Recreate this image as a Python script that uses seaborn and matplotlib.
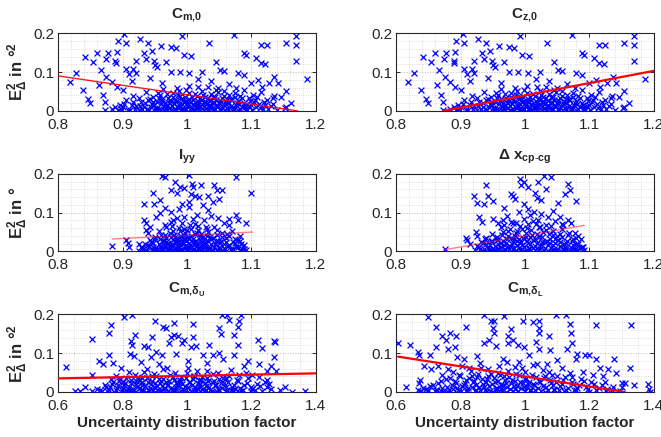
import matplotlib
matplotlib.use("Agg")
import matplotlib.pyplot as plt
import numpy as np
import pandas as pd
import seaborn as sns
from matplotlib.ticker import MultipleLocator

##### data #####
# top row: both panels show the same scatter cloud
top_pts = [
    # sparse upper part
    (0.903, 0.197), (0.992, 0.193), (1.073, 0.195), (1.169, 0.192), (0.893, 0.180), (0.905, 0.175),
    (0.927, 0.186), (0.939, 0.176), (0.959, 0.167), (0.975, 0.165), (0.983, 0.163), (1.034, 0.174),
    (1.115, 0.169), (1.125, 0.169), (1.154, 0.174), (1.169, 0.169), (0.860, 0.150), (0.878, 0.148),
    (0.891, 0.152), (0.933, 0.148), (0.946, 0.155), (0.996, 0.144), (1.006, 0.141), (1.089, 0.150),
    (1.092, 0.144), (0.842, 0.139), (0.854, 0.127), (0.874, 0.133), (0.889, 0.128), (0.890, 0.122),
    (0.921, 0.129), (0.936, 0.133), (0.949, 0.129), (0.950, 0.118), (0.953, 0.114), (0.967, 0.127),
    (1.045, 0.125), (1.058, 0.103), (1.107, 0.135), (1.115, 0.122), (1.122, 0.120), (1.169, 0.129),
    (0.906, 0.108), (0.917, 0.109), (0.910, 0.095), (0.921, 0.098), (0.975, 0.101), (0.989, 0.101),
    (1.004, 0.098), (1.024, 0.101), (1.051, 0.105), (1.079, 0.097), (1.089, 0.092), (0.827, 0.097),
    (0.818, 0.075), (0.867, 0.105), (0.875, 0.088), (0.883, 0.075), (0.863, 0.067), (0.838, 0.054),
    (0.846, 0.030), (0.850, 0.021), (0.869, 0.041), (0.872, 0.024), (0.891, 0.061), (0.900, 0.054),
    (1.187, 0.081), (1.136, 0.088), (1.141, 0.071), (1.128, 0.071), (1.154, 0.052), (1.162, 0.020),
    (1.154, 0.011), (1.146, 0.037), (1.133, 0.032), (1.117, 0.062), (1.110, 0.080), (1.099, 0.071),
    (0.915, 0.078), (0.942, 0.085), (0.962, 0.072), (1.017, 0.083), (1.038, 0.077), (1.066, 0.068),
    # dense lower band
    (0.872, 0.001), (0.884, 0.004), (0.893, 0.002), (0.901, 0.009), (0.908, 0.003), (0.914, 0.015),
    (0.919, 0.006), (0.925, 0.001), (0.929, 0.022), (0.934, 0.011), (0.938, 0.004), (0.943, 0.031),
    (0.946, 0.017), (0.951, 0.008), (0.954, 0.002), (0.958, 0.041), (0.961, 0.025), (0.964, 0.012),
    (0.967, 0.005), (0.971, 0.034), (0.973, 0.019), (0.976, 0.001), (0.979, 0.047), (0.982, 0.028),
    (0.984, 0.009), (0.987, 0.015), (0.990, 0.038), (0.993, 0.004), (0.996, 0.022), (0.998, 0.055),
    (1.001, 0.011), (1.004, 0.031), (1.006, 0.002), (1.009, 0.018), (1.012, 0.043), (1.014, 0.007),
    (1.017, 0.026), (1.020, 0.013), (1.023, 0.051), (1.026, 0.003), (1.028, 0.035), (1.031, 0.019),
    (1.034, 0.009), (1.037, 0.044), (1.040, 0.024), (1.043, 0.004), (1.046, 0.014), (1.049, 0.058),
    (1.052, 0.029), (1.055, 0.008), (1.058, 0.039), (1.061, 0.018), (1.064, 0.002), (1.068, 0.027),
    (1.071, 0.011), (1.075, 0.046), (1.078, 0.021), (1.082, 0.006), (1.086, 0.033), (1.090, 0.015),
    (1.094, 0.003), (1.098, 0.025), (1.103, 0.041), (1.107, 0.009), (1.112, 0.018), (1.118, 0.004),
    (1.124, 0.029), (1.131, 0.012), (1.140, 0.002), (1.152, 0.007), (0.896, 0.016), (0.905, 0.027),
    (0.917, 0.038), (0.927, 0.013), (0.936, 0.049), (0.948, 0.023), (0.956, 0.033), (0.963, 0.057),
    (0.969, 0.015), (0.975, 0.026), (0.981, 0.006), (0.988, 0.051), (0.994, 0.029), (1.000, 0.019),
    (1.003, 0.064), (1.008, 0.037), (1.015, 0.016), (1.021, 0.032), (1.027, 0.022), (1.033, 0.061),
    (1.038, 0.012), (1.044, 0.036), (1.050, 0.019), (1.057, 0.052), (1.063, 0.031), (1.069, 0.013),
    (1.074, 0.037), (1.081, 0.017), (1.088, 0.055), (1.096, 0.012), (1.106, 0.028), (1.115, 0.048),
    (1.121, 0.014), (1.135, 0.038), (0.941, 0.002), (0.952, 0.005), (0.959, 0.001), (0.968, 0.008),
    (0.978, 0.003), (0.991, 0.002), (0.999, 0.006), (1.011, 0.001), (1.019, 0.004), (1.029, 0.007),
    (1.041, 0.001), (1.051, 0.005), (1.059, 0.002), (1.072, 0.006), (1.079, 0.001), (1.091, 0.009),
    (1.101, 0.002),
    (0.889, 0.011), (0.897, 0.006), (0.903, 0.018), (0.911, 0.001), (0.916, 0.024), (0.921, 0.012),
    (0.926, 0.032), (0.931, 0.004), (0.935, 0.019), (0.939, 0.027), (0.944, 0.009), (0.947, 0.036),
    (0.949, 0.014), (0.953, 0.024), (0.957, 0.006), (0.960, 0.018), (0.962, 0.030), (0.965, 0.002),
    (0.966, 0.021), (0.969, 0.044), (0.972, 0.008), (0.974, 0.028), (0.977, 0.013), (0.978, 0.036),
    (0.980, 0.021), (0.983, 0.003), (0.985, 0.026), (0.986, 0.042), (0.989, 0.011), (0.991, 0.031),
    (0.992, 0.017), (0.995, 0.005), (0.997, 0.037), (0.999, 0.026), (1.002, 0.014), (1.003, 0.045),
    (1.005, 0.022), (1.007, 0.008), (1.010, 0.029), (1.011, 0.016), (1.013, 0.003), (1.016, 0.038),
    (1.018, 0.021), (1.019, 0.009), (1.022, 0.028), (1.024, 0.017), (1.025, 0.042), (1.027, 0.011),
    (1.029, 0.024), (1.032, 0.002), (1.033, 0.033), (1.035, 0.015), (1.036, 0.026), (1.039, 0.007),
    (1.041, 0.037), (1.042, 0.019), (1.045, 0.029), (1.047, 0.011), (1.048, 0.048), (1.051, 0.021),
    (1.053, 0.003), (1.054, 0.034), (1.057, 0.014), (1.060, 0.026), (1.062, 0.008), (1.065, 0.041),
    (1.066, 0.019), (1.069, 0.031), (1.073, 0.004), (1.076, 0.014), (1.080, 0.025), (1.083, 0.038),
    (1.085, 0.011), (1.088, 0.021), (1.092, 0.005), (1.096, 0.032), (1.100, 0.016), (1.104, 0.024),
    (1.109, 0.036), (1.113, 0.008), (1.119, 0.022), (1.126, 0.006), (1.133, 0.017), (0.955, 0.047),
    (0.985, 0.058), (1.018, 0.062), (1.045, 0.053), (1.077, 0.058),
]

iyy_pts = [
    (0.962, 0.195), (0.966, 0.191), (1.003, 0.197), (1.076, 0.191), (0.982, 0.178), (0.990, 0.167),
    (0.995, 0.164), (1.008, 0.174), (1.010, 0.167), (1.022, 0.170), (1.013, 0.144), (1.042, 0.170),
    (1.046, 0.159), (1.054, 0.157), (1.099, 0.151), (0.947, 0.150), (0.975, 0.157), (0.985, 0.150),
    (1.006, 0.149), (1.019, 0.140), (1.032, 0.144), (1.040, 0.127), (1.050, 0.136), (0.934, 0.121),
    (0.949, 0.122), (0.958, 0.132), (0.966, 0.112), (0.975, 0.102), (0.993, 0.123), (1.004, 0.127),
    (1.004, 0.115), (1.025, 0.119), (1.032, 0.106), (0.934, 0.081), (0.936, 0.074), (0.952, 0.089),
    (0.966, 0.068), (0.978, 0.081), (0.996, 0.089), (1.027, 0.081), (1.048, 0.085), (1.066, 0.083),
    (1.076, 0.094), (1.079, 0.081), (1.092, 0.074), (1.066, 0.068), (0.884, 0.015), (0.906, 0.029),
    (0.908, 0.022), (0.910, 0.012), (0.925, 0.020), (0.929, 0.012), (0.939, 0.047), (0.942, 0.064),
    (0.937, 0.056), (1.079, 0.030), (1.082, 0.039), (1.084, 0.018), (1.089, 0.007), (1.092, 0.003),
    (0.958, 0.098), (0.988, 0.108), (1.015, 0.094), (1.037, 0.091), (0.984, 0.087), (1.058, 0.072),
    # dense lower band
    (0.925, 0.002), (0.932, 0.006), (0.938, 0.001), (0.941, 0.013), (0.945, 0.004), (0.948, 0.021),
    (0.952, 0.009), (0.955, 0.002), (0.958, 0.031), (0.960, 0.015), (0.963, 0.005), (0.966, 0.042),
    (0.968, 0.024), (0.970, 0.011), (0.973, 0.001), (0.975, 0.036), (0.977, 0.018), (0.979, 0.052),
    (0.981, 0.007), (0.983, 0.028), (0.985, 0.013), (0.987, 0.061), (0.989, 0.003), (0.991, 0.039),
    (0.993, 0.021), (0.995, 0.009), (0.997, 0.047), (0.999, 0.016), (1.001, 0.002), (1.003, 0.033),
    (1.005, 0.068), (1.007, 0.011), (1.009, 0.025), (1.011, 0.005), (1.013, 0.044), (1.015, 0.017),
    (1.017, 0.056), (1.019, 0.008), (1.021, 0.029), (1.023, 0.014), (1.025, 0.038), (1.027, 0.002),
    (1.030, 0.022), (1.032, 0.049), (1.035, 0.010), (1.038, 0.031), (1.041, 0.004), (1.044, 0.019),
    (1.047, 0.043), (1.050, 0.012), (1.053, 0.026), (1.056, 0.001), (1.060, 0.035), (1.064, 0.015),
    (1.068, 0.006), (1.072, 0.024), (1.077, 0.011), (1.082, 0.003), (1.088, 0.016), (0.935, 0.019),
    (0.943, 0.029), (0.950, 0.038), (0.957, 0.053), (0.962, 0.027), (0.967, 0.063), (0.972, 0.019),
    (0.976, 0.075), (0.980, 0.043), (0.984, 0.034), (0.988, 0.024), (0.992, 0.072), (0.996, 0.031),
    (1.000, 0.055), (1.002, 0.012), (1.006, 0.041), (1.010, 0.083), (1.014, 0.028), (1.018, 0.066),
    (1.022, 0.046), (1.026, 0.021), (1.031, 0.058), (1.036, 0.036), (1.042, 0.062), (1.048, 0.028),
    (1.054, 0.047), (1.058, 0.018), (1.065, 0.039), (1.070, 0.053), (1.075, 0.031), (0.951, 0.001),
    (0.961, 0.003), (0.971, 0.006), (0.979, 0.001), (0.992, 0.004), (1.000, 0.007), (1.012, 0.001),
    (1.020, 0.003), (1.029, 0.006), (1.039, 0.002), (1.051, 0.005), (1.061, 0.001), (1.069, 0.004),
    (0.986, 0.002), (1.016, 0.002), (1.046, 0.001),
    (0.931, 0.009), (0.936, 0.003), (0.940, 0.016), (0.944, 0.024), (0.947, 0.011), (0.951, 0.031),
    (0.953, 0.005), (0.956, 0.019), (0.959, 0.042), (0.961, 0.008), (0.964, 0.027), (0.965, 0.014),
    (0.968, 0.035), (0.969, 0.003), (0.971, 0.021), (0.974, 0.047), (0.975, 0.011), (0.978, 0.029),
    (0.979, 0.017), (0.982, 0.038), (0.984, 0.006), (0.985, 0.023), (0.988, 0.014), (0.989, 0.052),
    (0.991, 0.031), (0.993, 0.002), (0.994, 0.019), (0.996, 0.041), (0.998, 0.026), (1.000, 0.011),
    (1.002, 0.036), (1.004, 0.021), (1.006, 0.058), (1.008, 0.004), (1.009, 0.031), (1.011, 0.016),
    (1.013, 0.025), (1.016, 0.047), (1.018, 0.009), (1.020, 0.036), (1.022, 0.022), (1.024, 0.003),
    (1.026, 0.031), (1.028, 0.015), (1.031, 0.041), (1.033, 0.026), (1.035, 0.005), (1.037, 0.018),
    (1.040, 0.035), (1.042, 0.012), (1.045, 0.027), (1.048, 0.004), (1.051, 0.021), (1.054, 0.038),
    (1.057, 0.009), (1.061, 0.025), (1.063, 0.044), (1.066, 0.016), (1.071, 0.006), (1.074, 0.021),
    (1.079, 0.012), (1.083, 0.027), (1.086, 0.006), (0.977, 0.065), (0.995, 0.058), (1.012, 0.071),
    (1.029, 0.064), (1.046, 0.056),
]

dx_pts = [
    (0.993, 0.187), (0.999, 0.178), (1.029, 0.195), (1.041, 0.192), (0.994, 0.172), (1.004, 0.167),
    (1.020, 0.178), (1.033, 0.161), (1.067, 0.174), (1.070, 0.159), (0.940, 0.170), (0.921, 0.142),
    (0.943, 0.144), (0.979, 0.149), (0.981, 0.142), (0.984, 0.136), (1.015, 0.150), (1.019, 0.138),
    (1.025, 0.132), (1.051, 0.125), (1.062, 0.147), (1.080, 0.130), (0.926, 0.125), (0.937, 0.123),
    (0.950, 0.130), (0.968, 0.111), (0.999, 0.123), (1.004, 0.108), (1.014, 0.102), (1.025, 0.096),
    (0.929, 0.089), (0.933, 0.077), (0.950, 0.083), (0.958, 0.073), (0.966, 0.081), (0.981, 0.073),
    (1.036, 0.089), (1.054, 0.089), (1.059, 0.068), (1.067, 0.081), (1.072, 0.073), (0.924, 0.051),
    (0.926, 0.041), (0.908, 0.035), (0.910, 0.029), (0.875, 0.005), (0.914, 0.018), (1.077, 0.047),
    (1.082, 0.039), (1.087, 0.032), (1.080, 0.018), (1.090, 0.012), (1.077, 0.005), (1.081, 0.003),
    (1.092, 0.003), (0.991, 0.101), (1.008, 0.094), (1.043, 0.104), (0.972, 0.092), (1.047, 0.079),
    # dense lower band
    (0.922, 0.003), (0.928, 0.011), (0.934, 0.001), (0.939, 0.019), (0.944, 0.006), (0.947, 0.027),
    (0.951, 0.002), (0.954, 0.014), (0.957, 0.038), (0.960, 0.007), (0.963, 0.022), (0.966, 0.049),
    (0.969, 0.003), (0.972, 0.031), (0.974, 0.012), (0.977, 0.058), (0.980, 0.019), (0.982, 0.005),
    (0.985, 0.041), (0.987, 0.026), (0.990, 0.009), (0.992, 0.066), (0.995, 0.016), (0.997, 0.034),
    (1.000, 0.002), (1.002, 0.047), (1.005, 0.021), (1.007, 0.008), (1.010, 0.055), (1.012, 0.029),
    (1.015, 0.013), (1.017, 0.071), (1.020, 0.004), (1.022, 0.037), (1.025, 0.018), (1.028, 0.051),
    (1.031, 0.009), (1.034, 0.027), (1.037, 0.044), (1.040, 0.002), (1.043, 0.016), (1.046, 0.033),
    (1.050, 0.006), (1.054, 0.024), (1.058, 0.059), (1.062, 0.011), (1.066, 0.028), (1.070, 0.004),
    (1.075, 0.017), (1.080, 0.035), (1.086, 0.008), (0.931, 0.024), (0.940, 0.035), (0.949, 0.045),
    (0.956, 0.029), (0.962, 0.062), (0.968, 0.017), (0.973, 0.041), (0.978, 0.075), (0.983, 0.032),
    (0.988, 0.053), (0.993, 0.022), (0.998, 0.084), (1.003, 0.061), (1.008, 0.036), (1.013, 0.078),
    (1.018, 0.046), (1.023, 0.062), (1.027, 0.025), (1.033, 0.067), (1.038, 0.021), (1.044, 0.052),
    (1.049, 0.039), (1.055, 0.046), (1.060, 0.020), (1.067, 0.042), (1.073, 0.026), (0.945, 0.001),
    (0.955, 0.004), (0.965, 0.001), (0.975, 0.006), (0.985, 0.002), (0.996, 0.005), (1.005, 0.001),
    (1.016, 0.004), (1.024, 0.007), (1.035, 0.001), (1.045, 0.005), (1.056, 0.002), (1.064, 0.006),
    (1.074, 0.001), (0.936, 0.005), (1.059, 0.003),
    (0.925, 0.013), (0.930, 0.005), (0.935, 0.021), (0.938, 0.031), (0.942, 0.009), (0.946, 0.017),
    (0.949, 0.026), (0.952, 0.004), (0.955, 0.035), (0.958, 0.019), (0.961, 0.011), (0.964, 0.043),
    (0.966, 0.028), (0.969, 0.006), (0.971, 0.021), (0.973, 0.052), (0.976, 0.013), (0.978, 0.034),
    (0.981, 0.025), (0.983, 0.009), (0.986, 0.047), (0.988, 0.016), (0.990, 0.031), (0.992, 0.003),
    (0.994, 0.023), (0.996, 0.057), (0.999, 0.012), (1.001, 0.036), (1.003, 0.027), (1.006, 0.005),
    (1.008, 0.019), (1.011, 0.042), (1.013, 0.008), (1.016, 0.031), (1.018, 0.022), (1.021, 0.063),
    (1.023, 0.013), (1.026, 0.037), (1.029, 0.004), (1.031, 0.025), (1.033, 0.055), (1.036, 0.017),
    (1.039, 0.032), (1.041, 0.009), (1.044, 0.043), (1.047, 0.021), (1.049, 0.002), (1.052, 0.029),
    (1.055, 0.014), (1.058, 0.038), (1.061, 0.006), (1.064, 0.021), (1.068, 0.047), (1.071, 0.012),
    (1.074, 0.031), (1.078, 0.004), (1.083, 0.019), (1.088, 0.011), (0.968, 0.068), (0.986, 0.073),
    (1.004, 0.070), (1.020, 0.081), (1.041, 0.065), (1.057, 0.071),
]

dU_pts = [
    (0.806, 0.192), (0.830, 0.197), (1.109, 0.198), (1.126, 0.197), (1.167, 0.198), (0.902, 0.183),
    (1.131, 0.186), (1.162, 0.182), (0.765, 0.173), (0.925, 0.168), (0.935, 0.164), (0.961, 0.177),
    (1.018, 0.175), (1.100, 0.166), (1.160, 0.168), (0.757, 0.153), (0.840, 0.148), (0.893, 0.142),
    (0.950, 0.142), (0.961, 0.146), (0.971, 0.145), (0.992, 0.133), (1.020, 0.142), (1.105, 0.150),
    (1.147, 0.146), (0.705, 0.136), (0.827, 0.131), (0.830, 0.120), (0.868, 0.118), (0.878, 0.116),
    (0.945, 0.125), (0.984, 0.125), (1.012, 0.116), (1.027, 0.118), (1.069, 0.120), (1.160, 0.122),
    (1.220, 0.133), (1.233, 0.113), (1.271, 0.131), (1.273, 0.128), (0.823, 0.098), (0.837, 0.092),
    (0.759, 0.094), (0.728, 0.081), (0.739, 0.072), (0.770, 0.075), (0.888, 0.089), (0.904, 0.103),
    (0.923, 0.094), (0.966, 0.098), (1.049, 0.094), (1.080, 0.096), (1.100, 0.101), (1.111, 0.085),
    (1.147, 0.094), (1.191, 0.081), (1.223, 0.072), (1.271, 0.089), (1.261, 0.068), (1.276, 0.054),
    (1.250, 0.054), (0.623, 0.065), (0.705, 0.043), (0.682, 0.013), (0.653, 0.002), (0.668, 0.002),
    (1.305, 0.013), (1.326, 0.001), (1.367, 0.002), (1.290, 0.004), (1.250, 0.032), (1.256, 0.021),
    (0.858, 0.078), (0.912, 0.071), (1.004, 0.079), (1.063, 0.074), (1.178, 0.066), (0.795, 0.062),
    # dense lower band
    (0.705, 0.003), (0.722, 0.008), (0.735, 0.002), (0.748, 0.014), (0.757, 0.005), (0.766, 0.021),
    (0.774, 0.001), (0.782, 0.011), (0.790, 0.029), (0.797, 0.004), (0.804, 0.017), (0.811, 0.037),
    (0.818, 0.008), (0.825, 0.024), (0.831, 0.002), (0.838, 0.045), (0.844, 0.013), (0.850, 0.031),
    (0.856, 0.006), (0.862, 0.019), (0.868, 0.052), (0.873, 0.001), (0.879, 0.027), (0.885, 0.011),
    (0.890, 0.041), (0.896, 0.004), (0.902, 0.022), (0.908, 0.015), (0.913, 0.034), (0.919, 0.002),
    (0.925, 0.058), (0.931, 0.009), (0.936, 0.026), (0.942, 0.017), (0.948, 0.044), (0.953, 0.005),
    (0.959, 0.031), (0.965, 0.012), (0.970, 0.021), (0.976, 0.001), (0.982, 0.038), (0.988, 0.008),
    (0.994, 0.016), (1.000, 0.049), (1.006, 0.025), (1.012, 0.003), (1.018, 0.034), (1.024, 0.013),
    (1.030, 0.055), (1.036, 0.007), (1.042, 0.021), (1.048, 0.039), (1.054, 0.002), (1.060, 0.015),
    (1.067, 0.029), (1.073, 0.006), (1.080, 0.047), (1.087, 0.018), (1.094, 0.001), (1.101, 0.033),
    (1.108, 0.011), (1.116, 0.024), (1.124, 0.004), (1.132, 0.041), (1.140, 0.014), (1.149, 0.007),
    (1.158, 0.028), (1.168, 0.002), (1.178, 0.017), (1.190, 0.035), (1.203, 0.008), (1.217, 0.021),
    (1.232, 0.003), (1.248, 0.012), (0.763, 0.033), (0.781, 0.042), (0.802, 0.025), (0.819, 0.051),
    (0.843, 0.028), (0.861, 0.037), (0.877, 0.058), (0.899, 0.047), (0.921, 0.029), (0.938, 0.061),
    (0.962, 0.048), (0.979, 0.026), (1.003, 0.063), (1.021, 0.042), (1.039, 0.031), (1.062, 0.053),
    (1.078, 0.027), (1.097, 0.049), (1.122, 0.036), (1.138, 0.057), (1.161, 0.043), (1.183, 0.049),
    (1.202, 0.044), (1.224, 0.038), (0.801, 0.001), (0.822, 0.004), (0.839, 0.001), (0.861, 0.006),
    (0.882, 0.002), (0.901, 0.001), (0.918, 0.005), (0.941, 0.002), (0.958, 0.007), (0.981, 0.003),
    (0.999, 0.001), (1.022, 0.006), (1.041, 0.002), (1.058, 0.004), (1.082, 0.001), (1.099, 0.006),
    (1.121, 0.002), (1.143, 0.004), (1.161, 0.001), (1.198, 0.003),
    (0.731, 0.006), (0.744, 0.019), (0.753, 0.002), (0.762, 0.012), (0.771, 0.026), (0.779, 0.005),
    (0.787, 0.017), (0.793, 0.034), (0.801, 0.009), (0.807, 0.022), (0.814, 0.003), (0.821, 0.013),
    (0.827, 0.031), (0.834, 0.007), (0.841, 0.021), (0.847, 0.038), (0.853, 0.011), (0.859, 0.027),
    (0.865, 0.002), (0.871, 0.016), (0.876, 0.035), (0.882, 0.006), (0.887, 0.021), (0.893, 0.029),
    (0.898, 0.013), (0.904, 0.041), (0.910, 0.004), (0.916, 0.024), (0.922, 0.015), (0.927, 0.033),
    (0.933, 0.002), (0.939, 0.019), (0.945, 0.028), (0.950, 0.011), (0.956, 0.039), (0.962, 0.004),
    (0.968, 0.026), (0.973, 0.015), (0.979, 0.032), (0.985, 0.021), (0.991, 0.006), (0.997, 0.035),
    (1.003, 0.012), (1.009, 0.027), (1.015, 0.019), (1.021, 0.041), (1.027, 0.004), (1.033, 0.024),
    (1.039, 0.013), (1.045, 0.031), (1.051, 0.008), (1.057, 0.022), (1.063, 0.036), (1.070, 0.013),
    (1.077, 0.003), (1.084, 0.029), (1.091, 0.017), (1.098, 0.007), (1.105, 0.022), (1.113, 0.037),
    (1.121, 0.013), (1.129, 0.027), (1.137, 0.005), (1.146, 0.019), (1.155, 0.031), (1.165, 0.011),
    (1.175, 0.004), (1.186, 0.024), (1.198, 0.014), (1.211, 0.005), (1.226, 0.016), (1.242, 0.026),
    (1.262, 0.008),
]

dL_pts = [
    (0.606, 0.127), (0.644, 0.122), (0.700, 0.192), (0.724, 0.168), (0.872, 0.198), (0.895, 0.183),
    (0.903, 0.183), (0.934, 0.195), (0.993, 0.182), (1.024, 0.180), (1.042, 0.182), (1.095, 0.197),
    (1.126, 0.198), (1.139, 0.175), (1.220, 0.173), (1.329, 0.173), (0.817, 0.168), (0.900, 0.164),
    (0.957, 0.162), (1.045, 0.164), (0.741, 0.145), (0.768, 0.151), (0.786, 0.145), (0.905, 0.151),
    (0.947, 0.145), (1.042, 0.153), (1.076, 0.145), (1.144, 0.151), (0.724, 0.116), (0.755, 0.133),
    (0.760, 0.111), (0.781, 0.116), (0.874, 0.125), (0.889, 0.133), (0.910, 0.118), (0.946, 0.125),
    (0.962, 0.133), (0.977, 0.122), (0.998, 0.116), (1.034, 0.129), (1.042, 0.110), (1.078, 0.107),
    (1.146, 0.125), (1.129, 0.111), (0.672, 0.094), (0.669, 0.104), (0.706, 0.094), (0.708, 0.059),
    (0.687, 0.068), (0.729, 0.068), (0.760, 0.059), (0.789, 0.089), (0.811, 0.085), (0.826, 0.063),
    (1.162, 0.098), (1.185, 0.094), (1.198, 0.096), (1.222, 0.085), (1.277, 0.085), (1.158, 0.085),
    (1.326, 0.063), (1.232, 0.063), (1.258, 0.059), (1.284, 0.048), (1.242, 0.041), (1.312, 0.024),
    (1.300, 0.022), (1.339, 0.019), (1.383, 0.021), (1.385, 0.008), (1.388, 0.001), (0.630, 0.013),
    (0.675, 0.032), (0.672, 0.024), (0.677, 0.002), (0.698, 0.004), (0.724, 0.004), (0.739, 0.003),
    (0.851, 0.092), (0.932, 0.086), (1.012, 0.094), (1.101, 0.082), (0.982, 0.078), (1.068, 0.072),
    # dense lower band
    (0.668, 0.004), (0.684, 0.011), (0.699, 0.002), (0.713, 0.019), (0.726, 0.006), (0.738, 0.028),
    (0.749, 0.001), (0.759, 0.014), (0.768, 0.036), (0.777, 0.007), (0.786, 0.022), (0.794, 0.045),
    (0.802, 0.003), (0.810, 0.017), (0.817, 0.031), (0.824, 0.009), (0.831, 0.053), (0.838, 0.025),
    (0.845, 0.002), (0.852, 0.039), (0.858, 0.013), (0.864, 0.061), (0.870, 0.021), (0.876, 0.005),
    (0.882, 0.033), (0.888, 0.016), (0.894, 0.047), (0.900, 0.001), (0.906, 0.027), (0.912, 0.011),
    (0.918, 0.068), (0.924, 0.019), (0.930, 0.004), (0.936, 0.041), (0.942, 0.024), (0.948, 0.055),
    (0.954, 0.008), (0.960, 0.032), (0.966, 0.015), (0.972, 0.047), (0.978, 0.003), (0.984, 0.026),
    (0.990, 0.062), (0.996, 0.012), (1.002, 0.037), (1.008, 0.021), (1.015, 0.006), (1.022, 0.044),
    (1.029, 0.017), (1.036, 0.072), (1.043, 0.029), (1.050, 0.002), (1.058, 0.036), (1.066, 0.013),
    (1.074, 0.051), (1.082, 0.024), (1.090, 0.007), (1.099, 0.041), (1.108, 0.016), (1.118, 0.032),
    (1.128, 0.004), (1.139, 0.048), (1.150, 0.021), (1.162, 0.009), (1.175, 0.033), (1.189, 0.014),
    (1.204, 0.026), (1.220, 0.004), (1.238, 0.019), (1.256, 0.007), (1.275, 0.012), (1.295, 0.003),
    (0.741, 0.045), (0.775, 0.052), (0.805, 0.066), (0.835, 0.041), (0.861, 0.074), (0.885, 0.058),
    (0.915, 0.049), (0.945, 0.077), (0.970, 0.064), (1.001, 0.052), (1.025, 0.069), (1.055, 0.057),
    (1.085, 0.045), (1.115, 0.061), (1.145, 0.038), (1.180, 0.052), (1.210, 0.043), (0.762, 0.001),
    (0.791, 0.004), (0.819, 0.001), (0.849, 0.006), (0.881, 0.002), (0.909, 0.005), (0.941, 0.001),
    (0.969, 0.007), (1.000, 0.002), (1.031, 0.005), (1.061, 0.001), (1.089, 0.004), (1.121, 0.002),
    (1.152, 0.005), (1.199, 0.001), (1.251, 0.002),
    (0.692, 0.007), (0.706, 0.015), (0.719, 0.003), (0.731, 0.022), (0.743, 0.011), (0.754, 0.034),
    (0.763, 0.005), (0.772, 0.019), (0.781, 0.028), (0.789, 0.009), (0.797, 0.041), (0.805, 0.015),
    (0.813, 0.024), (0.820, 0.004), (0.827, 0.037), (0.834, 0.012), (0.841, 0.029), (0.848, 0.019),
    (0.855, 0.047), (0.861, 0.006), (0.867, 0.033), (0.873, 0.014), (0.879, 0.025), (0.885, 0.041),
    (0.891, 0.003), (0.897, 0.021), (0.903, 0.035), (0.909, 0.011), (0.915, 0.028), (0.921, 0.045),
    (0.927, 0.007), (0.933, 0.018), (0.939, 0.031), (0.945, 0.013), (0.951, 0.038), (0.957, 0.024),
    (0.963, 0.003), (0.969, 0.029), (0.975, 0.016), (0.981, 0.043), (0.987, 0.009), (0.993, 0.024),
    (0.999, 0.034), (1.005, 0.013), (1.012, 0.027), (1.019, 0.004), (1.026, 0.021), (1.033, 0.039),
    (1.040, 0.011), (1.047, 0.025), (1.055, 0.016), (1.063, 0.042), (1.071, 0.006), (1.079, 0.031),
    (1.087, 0.018), (1.096, 0.027), (1.105, 0.005), (1.114, 0.021), (1.124, 0.039), (1.134, 0.011),
    (1.145, 0.026), (1.157, 0.005), (1.169, 0.017), (1.183, 0.029), (1.197, 0.008), (1.213, 0.021),
    (1.231, 0.011), (1.250, 0.027), (1.270, 0.005), (1.300, 0.014),
]

# regression lines (end points)
cm0_fit_x, cm0_fit_y = [0.800, 1.172], [0.090, 0.000]
cz0_fit_x, cz0_fit_y = [0.873, 1.200], [0.000, 0.103]
iyy_fit_x, iyy_fit_y = [0.884, 1.102], [0.032, 0.050]
dx_fit_x, dx_fit_y = [0.874, 1.092], [0.004, 0.067]
dU_fit_x, dU_fit_y = [0.600, 1.400], [0.035, 0.048]
dL_fit_x, dL_fit_y = [0.606, 1.310], [0.091, 0.000]

titles = [r'$\mathbf{C_{m{,}0}}$', r'$\mathbf{C_{z{,}0}}$',
          r'$\mathbf{I_{yy}}$', r'$\mathbf{\Delta\ x_{cp\text{-}cg}}$',
          r'$\mathbf{C_{m{,}\delta_U}}$', r'$\mathbf{C_{m{,}\delta_L}}$']
ylabels = [r'$\mathbf{E^2_\Delta}$ in °$^{\mathbf{2}}$', r'$\mathbf{E^2_\Delta}$ in °',
           r'$\mathbf{E^2_\Delta}$ in °$^{\mathbf{2}}$']
x_ticks_narrow = [0.8, 0.9, 1.0, 1.1, 1.2]
x_labels_narrow = ['0.8', '0.9', '1', '1.1', '1.2']
x_ticks_wide = [0.6, 0.8, 1.0, 1.2, 1.4]
x_labels_wide = ['0.6', '0.8', '1', '1.2', '1.4']
y_ticks = [0, 0.1, 0.2]
y_labels = ['0', '0.1', '0.2']
xlabel = 'Uncertainty distribution factor'

##### style #####
sns.set_style("ticks")
plt.rcParams['font.family'] = ['Liberation Sans', 'DejaVu Sans']
plt.rcParams['mathtext.fontset'] = 'custom'
plt.rcParams['mathtext.rm'] = 'Liberation Sans'
plt.rcParams['mathtext.it'] = 'Liberation Sans:italic'
plt.rcParams['mathtext.bf'] = 'Liberation Sans:bold'


def draw_panel(ax, pts, fit_x, fit_y, title, wide, fit_lw, fit_alpha, title_pad):
    df = pd.DataFrame(pts, columns=['factor', 'err'])
    sns.scatterplot(data=df, x='factor', y='err', ax=ax, marker='x', color='blue',
                    s=18, linewidth=0.9, zorder=3, clip_on=True)
    sns.lineplot(x=fit_x, y=fit_y, ax=ax, color='red', lw=fit_lw, alpha=fit_alpha, zorder=4)
    if wide:
        ax.set_xlim(0.6, 1.4)
        ax.set_xticks(x_ticks_wide, x_labels_wide)
        ax.xaxis.set_minor_locator(MultipleLocator(0.05))
    else:
        ax.set_xlim(0.8, 1.2)
        ax.set_xticks(x_ticks_narrow, x_labels_narrow)
        ax.xaxis.set_minor_locator(MultipleLocator(0.02))
    ax.set_ylim(0, 0.2)
    ax.set_yticks(y_ticks, y_labels)
    ax.yaxis.set_minor_locator(MultipleLocator(0.02))
    ax.grid(which='major', color='#bdbdbd', linestyle=':', linewidth=0.7)
    ax.grid(which='minor', color='#d6d6d6', linestyle=':', linewidth=0.6)
    ax.set_axisbelow(True)
    ax.tick_params(which='major', direction='in', length=3, width=0.7, top=True, right=True,
                   labelsize=11, colors='#262626')
    ax.tick_params(axis='x', which='major', pad=5)
    ax.tick_params(axis='y', which='major', pad=3)
    ax.tick_params(which='minor', length=0, top=True, right=True)
    for sp in ax.spines.values():
        sp.set_color('#262626')
        sp.set_linewidth(0.8)
    ax.set_title(title, fontsize=11, fontweight='bold', pad=title_pad)
    ax.set_xlabel('')
    ax.set_ylabel('')


fig, axes = plt.subplots(3, 2, figsize=(6.61, 4.37), dpi=100)
fig.subplots_adjust(left=0.088, right=0.989, top=0.924, bottom=0.103, wspace=0.313, hspace=0.81)

panels = [
    (top_pts, cm0_fit_x, cm0_fit_y, False, 1.0, 0.9),
    (top_pts, cz0_fit_x, cz0_fit_y, False, 1.6, 1.0),
    (iyy_pts, iyy_fit_x, iyy_fit_y, False, 1.0, 0.5),
    (dx_pts, dx_fit_x, dx_fit_y, False, 1.0, 0.5),
    (dU_pts, dU_fit_x, dU_fit_y, True, 1.6, 1.0),
    (dL_pts, dL_fit_x, dL_fit_y, True, 1.6, 1.0),
]
title_pads = [11, 11, 10, 10, 16, 16]
for ax, (pts, fx, fy, wide, lw, al), title, tp in zip(axes.flat, panels, titles, title_pads):
    draw_panel(ax, pts, fx, fy, title, wide, lw, al, tp)

for row, lab in enumerate(ylabels):
    axes[row, 0].set_ylabel(lab, fontsize=12, fontweight='bold', labelpad=2)
for ax in axes[2]:
    ax.set_xlabel(xlabel, fontsize=11, fontweight='bold', labelpad=2)

fig.savefig('out.png', dpi=100)
